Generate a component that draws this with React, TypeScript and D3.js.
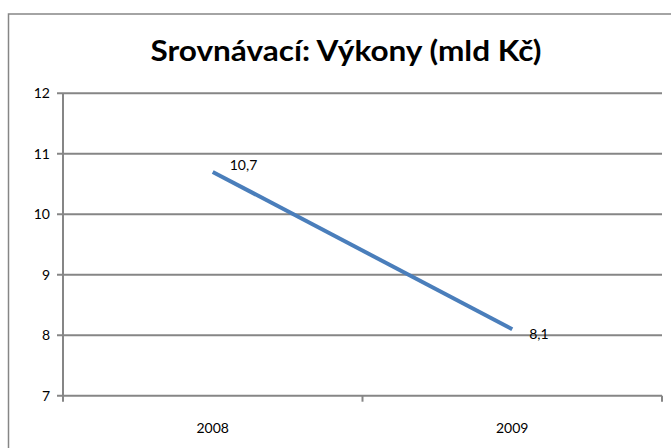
import React from "react";
import * as d3 from "d3";

const categories = ["2008", "2009"];
const values = [10.7, 8.1];
const valueLabels = ["10,7", "8,1"];
const yTicks = [7, 8, 9, 10, 11, 12];
const title = "Srovnávací: Výkony (mld Kč)";

export default function App() {
  const W = 671, H = 448;
  const left = 63, right = 662, top = 93.3, bottom = 395.7;
  const x = d3.scaleBand<string>().domain(categories).range([left, right]);
  const y = d3.scaleLinear().domain([7, 12]).range([bottom, top]);
  const cx = (i: number) => (x(categories[i]) as number) + x.bandwidth() / 2;
  const line = d3
    .line<number>()
    .x((_, i) => cx(i))
    .y((d) => y(d));
  const grey = "#868686";
  const font = "Lato, 'Open Sans', sans-serif";
  return (
    <svg
      width={W}
      height={H}
      style={{ position: "absolute", left: 0, top: 0 }}
      fontFamily={font}
    >
      <rect x={0} y={0} width={W} height={H} fill="#fff" />
      <rect x={8.5} y={14} width={700} height={500} fill="#fff" stroke={grey} strokeWidth={1.5} />
      <text
        x={346}
        y={61}
        textAnchor="middle"
        fontSize={29}
        fontWeight="bold"
        textLength={391}
        lengthAdjust="spacingAndGlyphs"
        fill="#000"
      >
        {title}
      </text>
      {yTicks.map((t) => (
        <g key={t}>
          <line x1={left - 6} x2={right} y1={y(t)} y2={y(t)} stroke={grey} strokeWidth={2} />
          <text x={50} y={y(t)} dy="0.35em" textAnchor="end" fontSize={14} fill="#000">
            {t}
          </text>
        </g>
      ))}
      <line x1={left} x2={left} y1={top} y2={bottom} stroke={grey} strokeWidth={2} />
      {[left, (left + right) / 2, right].map((tx, i) => (
        <line key={i} x1={tx} x2={tx} y1={bottom} y2={bottom + 6} stroke={grey} strokeWidth={2} />
      ))}
      {categories.map((c, i) => (
        <text key={c} x={cx(i)} y={428} dy="0.35em" textAnchor="middle" fontSize={14} fill="#000">
          {c}
        </text>
      ))}
      <path d={line(values) || ""} fill="none" stroke="#4a7ebb" strokeWidth={4} />
      {values.map((v, i) => (
        <text
          key={i}
          x={cx(i) + 17}
          y={y(v) + (i === 0 ? -7 : 5)}
          dy="0.35em"
          fontSize={14}
          fill="#000"
        >
          {valueLabels[i]}
        </text>
      ))}
    </svg>
  );
}
